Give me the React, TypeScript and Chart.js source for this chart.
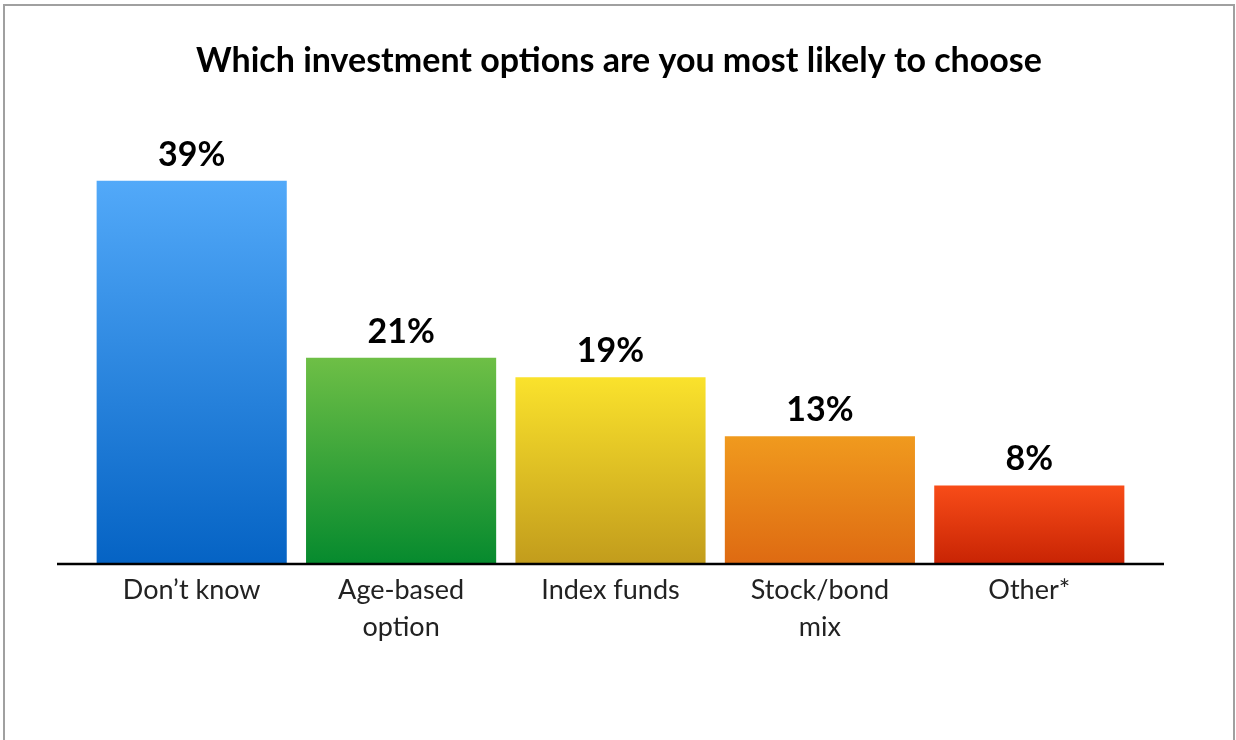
import React, { useEffect, useRef } from "react";
import { Chart, registerables } from "chart.js";

Chart.register(...registerables);

const chartTitle = "Which investment options are you most likely to choose";
const categories: string[][] = [
  ["Don\u2019t know"],
  ["Age-based", "option"],
  ["Index funds"],
  ["Stock/bond", "mix"],
  ["Other*"],
];
const values = [39, 21, 19, 13, 8];
const valueLabels = ["39%", "21%", "19%", "13%", "8%"];
const topColors = ["#52A9F9", "#6EBF46", "#FAE22C", "#F09A1E", "#F84C18"];
const bottomColors = ["#0563C4", "#068A2E", "#C29C1C", "#DE6A12", "#C82404"];

const FONT = "Lato, 'Open Sans', sans-serif";

const titlePlugin = {
  id: "customTitle",
  afterDraw(chart: any) {
    const { ctx } = chart;
    ctx.save();
    ctx.fillStyle = "#000";
    ctx.font = `bold 34px ${FONT}`;
    ctx.textAlign = "center";
    ctx.textBaseline = "middle";
    ctx.fillText(chartTitle, 619, 61);
    ctx.restore();
  },
};

const baselinePlugin = {
  id: "baseline",
  afterDatasetsDraw(chart: any) {
    const { ctx, chartArea, scales } = chart;
    const y = scales.y.getPixelForValue(0);
    ctx.save();
    ctx.strokeStyle = "#000";
    ctx.lineWidth = 2.5;
    ctx.beginPath();
    ctx.moveTo(chartArea.left - 30, y);
    ctx.lineTo(chartArea.right + 30, y);
    ctx.stroke();
    ctx.restore();
  },
};

const valueLabelPlugin = {
  id: "valueLabels",
  afterDatasetsDraw(chart: any) {
    const { ctx } = chart;
    const meta = chart.getDatasetMeta(0);
    ctx.save();
    ctx.fillStyle = "#000";
    ctx.font = `bold 34px ${FONT}`;
    ctx.textAlign = "center";
    ctx.textBaseline = "middle";
    meta.data.forEach((bar: any, i: number) => {
      ctx.fillText(valueLabels[i], bar.x, bar.y - 26);
    });
    ctx.restore();
  },
};

export default function App() {
  const canvasRef = useRef<HTMLCanvasElement | null>(null);

  useEffect(() => {
    const canvas = canvasRef.current;
    if (!canvas) return;
    const chart = new Chart(canvas, {
      type: "bar",
      data: {
        labels: categories,
        datasets: [
          {
            data: values,
            barPercentage: 0.908,
            categoryPercentage: 1,
            borderWidth: 0,
            backgroundColor: (context: any) => {
              const c = context.chart;
              const { ctx, scales } = c;
              if (!scales || !scales.y || context.dataIndex == null) return topColors[0];
              const i = context.dataIndex;
              const top = scales.y.getPixelForValue(values[i]);
              const bottom = scales.y.getPixelForValue(0);
              if (!isFinite(top) || !isFinite(bottom)) return topColors[i];
              const g = ctx.createLinearGradient(0, top, 0, bottom);
              g.addColorStop(0, topColors[i]);
              g.addColorStop(1, bottomColors[i]);
              return g;
            },
          },
        ],
      },
      options: {
        responsive: false,
        animation: false,
        layout: { padding: { left: 87, right: 102, top: 171, bottom: 86 } },
        plugins: {
          legend: { display: false },
          tooltip: { enabled: false },
          title: { display: false },
        },
        scales: {
          x: {
            grid: { display: false, drawTicks: false },
            border: { display: false },
            ticks: {
              color: "#222",
              font: { family: FONT, size: 27, lineHeight: 1.37 },
              padding: 8,
              maxRotation: 0,
              autoSkip: false,
            },
          },
          y: { display: false, min: 0, max: 40 },
        },
      },
      plugins: [baselinePlugin, valueLabelPlugin, titlePlugin],
    });
    return () => chart.destroy();
  }, []);

  return (
    <div
      style={{
        position: "fixed",
        left: 0,
        top: 0,
        width: 1236,
        height: 740,
        overflow: "hidden",
        background: "#fff",
      }}
    >
      <div
        style={{
          position: "absolute",
          left: 3,
          top: 4,
          width: 1232,
          height: 800,
          border: "2px solid #a0a0a0",
          boxSizing: "border-box",
        }}
      />
      <canvas
        ref={canvasRef}
        width={1236}
        height={740}
        style={{ position: "absolute", left: 0, top: 0, display: "block" }}
      />
    </div>
  );
}
